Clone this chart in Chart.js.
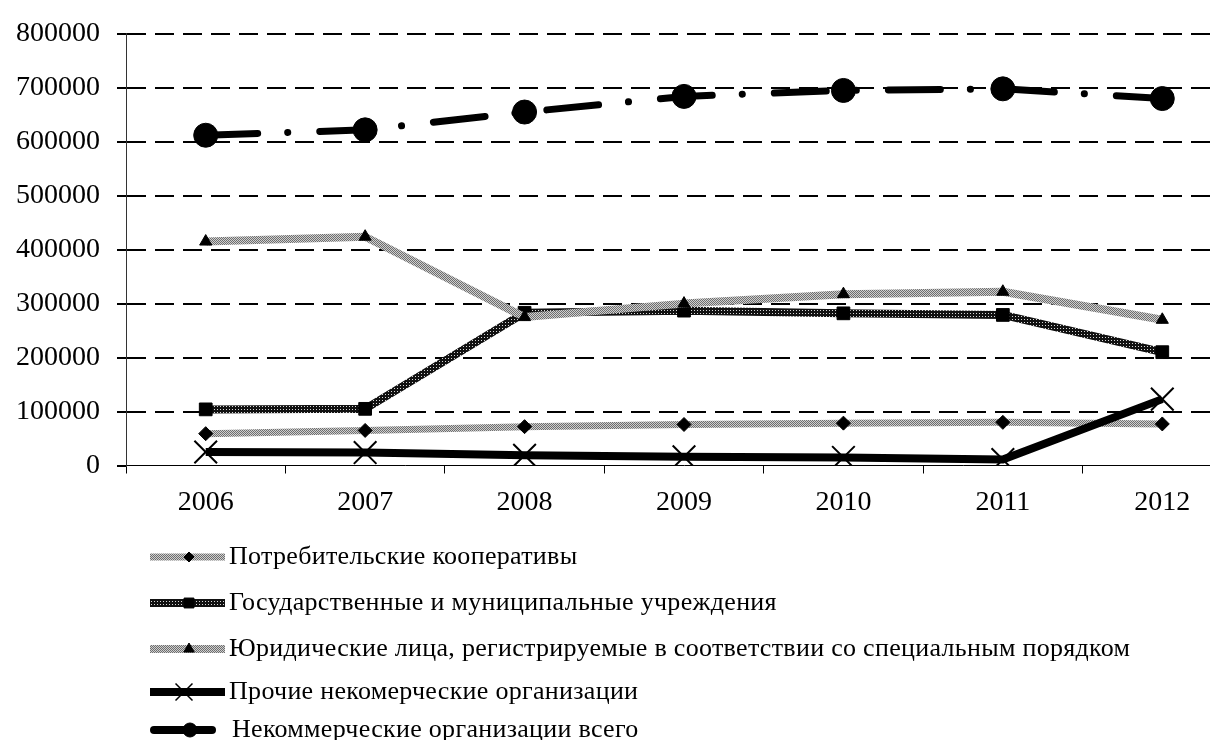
<!DOCTYPE html>
<html>
<head>
<meta charset="utf-8">
<script src="https://cdn.jsdelivr.net/npm/chart.js@4.4.1/dist/chart.umd.min.js"></script>
<style>
  html, body { margin: 0; padding: 0; overflow: hidden; background: #fff; }
  #wrap { width: 1260px; height: 740px; }
</style>
</head>
<body>
<div id="wrap"><canvas id="chart" width="1260" height="740"></canvas></div>
<script>
// data
const years = ['2006', '2007', '2008', '2009', '2010', '2011', '2012'];
const consumerCoops = [59000, 65000, 72000, 76000, 78500, 80000, 77000];
const stateInstitutions = [104000, 105000, 283000, 287000, 282000, 279000, 210000];
const specialEntities = [415000, 424000, 275000, 300000, 317500, 322000, 270000];
const otherNonprofits = [25000, 24000, 19000, 16000, 15000, 11000, 123000];
const nonprofitsTotal = [612000, 622000, 655000, 684000, 695000, 698000, 680000];
const seriesNames = [
    'Потребительские кооперативы',
    'Государственные и муниципальные учреждения',
    'Юридические лица, регистрируемые в соответствии со специальным порядком',
    'Прочие некомерческие организации',
    'Некоммерческие организации всего'
];
const yMin = 0, yMax = 800000, yStep = 100000;

const FONT = '"Liberation Serif", "Times New Roman", serif';

// little textures for the hatched lines
const makePattern = (draw, w, h) => {
    const c = document.createElement('canvas');
    c.width = w; c.height = h;
    draw(c.getContext('2d'));
    return c.getContext('2d').createPattern(c, 'repeat');
};
const grayHatch = makePattern(g => {
    g.fillStyle = '#cfcfcf'; g.fillRect(0, 0, 2, 2);
    g.fillStyle = '#6e6e6e'; g.fillRect(0, 0, 1, 1); g.fillRect(1, 1, 1, 1);
}, 2, 2);
const darkDots = makePattern(g => {
    g.fillStyle = '#111'; g.fillRect(0, 0, 3, 3);
    g.fillStyle = '#d8d8d8'; g.fillRect(1, 1, 1, 1);
}, 3, 3);

const styles = [
    { color: grayHatch, width: 7, point: 'rectRot', r: 7, lr: 5, dash: [] },
    { color: darkDots, width: 8, point: 'rect', r: 9, lr: 7, dash: [] },
    { color: grayHatch, width: 8, point: 'triangle', r: 7, lr: 6, dash: [] },
    { color: '#000', width: 8, point: 'crossRot', r: 16, lr: 12, dash: [] },
    { color: '#000', width: 7, point: 'circle', r: 12, lr: 7, dash: [52, 30, 0.1, 32] }
];
const seriesData = [consumerCoops, stateInstitutions, specialEntities, otherNonprofits, nonprofitsTotal];

const datasets = seriesData.map((d, i) => {
    const s = styles[i];
    return {
        label: seriesNames[i],
        data: d,
        order: 4 - i,
        borderColor: s.color,
        borderWidth: s.width,
        borderDash: s.dash,
        borderCapStyle: s.dash.length ? 'round' : 'butt',
        borderJoinStyle: 'round',
        tension: 0,
        pointStyle: s.point,
        pointRadius: s.r,
        pointBackgroundColor: '#000',
        pointBorderColor: '#000',
        pointBorderWidth: s.point === 'crossRot' ? 2 : 1
    };
});

// legend as one column under the plot
const legendRows = [557, 603, 649, 692, 730];
const columnLegend = {
    id: 'columnLegend',
    afterDraw(chart) {
        const ctx = chart.ctx;
        ctx.save();
        datasets.forEach((ds, i) => {
            const s = styles[i];
            const y = legendRows[i];
            const x0 = i === 4 ? 154 : 150, x1 = i === 4 ? 212 : 225;
            const mx = i === 4 ? 190 : (i === 3 ? 184 : 189);
            ctx.strokeStyle = s.color;
            ctx.lineWidth = i === 4 ? 8 : s.width;
            ctx.lineCap = i === 4 ? 'round' : 'butt';
            ctx.setLineDash([]);
            ctx.beginPath(); ctx.moveTo(x0, y); ctx.lineTo(x1, y); ctx.stroke();
            ctx.fillStyle = '#000';
            ctx.strokeStyle = '#000';
            ctx.lineWidth = s.point === 'crossRot' ? 1.5 : 1;
            Chart.helpers.drawPoint(ctx, {
                pointStyle: s.point, radius: s.lr, rotation: 0,
                borderWidth: ctx.lineWidth
            }, mx, y);
            ctx.font = '26px ' + FONT;
            ctx.letterSpacing = '0.3px';
            ctx.textBaseline = 'middle';
            ctx.fillStyle = '#000';
            ctx.fillText(ds.label, i === 4 ? 232 : 229, y);
        });
        ctx.restore();
    }
};

Chart.defaults.font.family = FONT;
Chart.defaults.color = '#000';

new Chart(document.getElementById('chart').getContext('2d'), {
    type: 'line',
    data: { labels: years, datasets: datasets },
    options: {
        responsive: false,
        animation: false,
        layout: { padding: { top: 29, right: 3, bottom: 214.5, left: 0 } },
        plugins: { legend: { display: false }, tooltip: { enabled: false } },
        scales: {
            x: {
                offset: true,
                grid: { offset: true, drawOnChartArea: false, tickLength: 8, tickColor: '#000', tickWidth: 1 },
                border: { color: '#000', width: 1 },
                ticks: { font: { size: 28 }, padding: 12, maxRotation: 0 },
                afterFit: scale => { scale.height = 60; }
            },
            y: {
                min: yMin, max: yMax,
                grid: {
                    color: c => c.tick && c.tick.value === 0 ? 'rgba(0,0,0,0)' : '#000',
                    lineWidth: 2, tickLength: 9, tickColor: '#000', tickWidth: 2
                },
                border: { color: '#333', width: 1, dash: [19, 9] },
                ticks: { stepSize: yStep, font: { size: 28 }, padding: 17, callback: v => String(v) },
                afterFit: scale => { scale.width = 126; }
            }
        }
    },
    plugins: [columnLegend]
});
</script>
</body>
</html>
